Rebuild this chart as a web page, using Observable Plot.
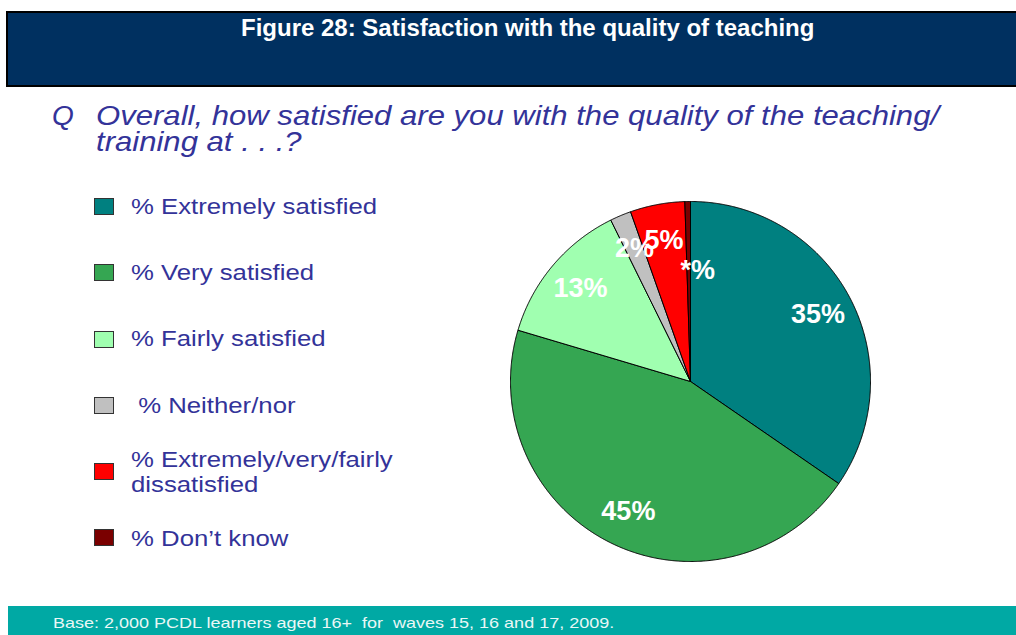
<!DOCTYPE html>
<html>
<head>
<meta charset="utf-8">
<script src="https://cdn.jsdelivr.net/npm/d3@7"></script>
<script src="https://cdn.jsdelivr.net/npm/@observablehq/plot@0.6"></script>
<style>
  html, body { margin: 0; padding: 0; background: #fff; }
  #page { position: relative; width: 1016px; height: 635px; overflow: hidden; font-family: "Liberation Sans", Arial, sans-serif; }
  .abs { position: absolute; white-space: pre; }
  #titlebar { left: 6px; top: 11px; width: 1008px; height: 72px; background: #003060; border-top: 2px solid #000; border-left: 2px solid #000; border-bottom: 2px solid #000; border-right: 1px solid #888; }
  #title { left: 241px; top: 14px; color: #fff; font-weight: bold; font-size: 24px; line-height: 28px; transform-origin: left top; }
  .qt { color: #333399; font-style: italic; font-size: 28px; line-height: 26px; transform-origin: left top; }
  .sw { position: absolute; width: 20px; height: 17px; border: 1px solid #333; box-sizing: border-box; }
  .lt { position: absolute; color: #333399; font-size: 22px; line-height: 25px; white-space: pre; transform-origin: left top; transform: scaleX(1.17); }
  #footer { left: 8px; top: 606px; width: 1008px; height: 29px; background: #00A9A4; }
  #foot { left: 53px; top: 614px; color: #EAF7F6; font-size: 15px; line-height: 17px; transform-origin: left top; transform: scaleX(1.2); }
  #pie { position: absolute; left: 500px; top: 191px; }
</style>
</head>
<body>
<div id="page">
  <div id="titlebar" class="abs"></div>
  <div id="title" class="abs"></div>
  <div id="legend"></div>
  <div id="pie"></div>
  <div id="footer" class="abs"></div>
  <div id="foot" class="abs"></div>
</div>
<script>
const titleText = "Figure 28: Satisfaction with the quality of teaching";
const questionMark = "Q";
const questionLines = ["Overall, how satisfied are you with the quality of the teaching/", "training at . . .?"];
const footText = "Base: 2,000 PCDL learners aged 16+  for  waves 15, 16 and 17, 2009.";

const categories = ["% Extremely satisfied", "% Very satisfied", "% Fairly satisfied", " % Neither/nor", "% Extremely/very/fairly\ndissatisfied", "% Don’t know"];
const values = [34.6, 45.0, 13.1, 1.9, 4.9, 0.5];
const sliceLabels = ["35%", "45%", "13%", "2%", "5%", "*%"];
const colors = ["#008080", "#35A652", "#A0FFB0", "#C0C0C0", "#FF0000", "#7A0000"];

const page = document.getElementById("page");
// ---- title, question, footer
document.getElementById("title").textContent = titleText;
document.getElementById("foot").textContent = footText;
const qm = document.createElement("div");
qm.className = "abs qt"; qm.style.left = "52px"; qm.style.top = "103px";
qm.textContent = questionMark;
page.appendChild(qm);
questionLines.forEach((line, i) => {
  const d = document.createElement("div");
  d.className = "abs qt";
  d.style.left = "96px"; d.style.top = (103 + i * 26) + "px";
  d.style.transform = "scaleX(1.11)";
  d.textContent = line;
  page.appendChild(d);
});

// ---- legend (HTML)
const legend = document.getElementById("legend");
const rowTops = [194, 260, 326, 393, 447, 526];
const swTops = [198, 264, 331, 397, 463, 529];
categories.forEach((c, i) => {
  const s = document.createElement("div");
  s.className = "sw"; s.style.left = "94px"; s.style.top = swTops[i] + "px"; s.style.background = colors[i];
  legend.appendChild(s);
  const t = document.createElement("div");
  t.className = "lt"; t.style.left = "131px"; t.style.top = rowTops[i] + "px";
  t.textContent = c;
  legend.appendChild(t);
});

// ---- pie with Plot
const arcs = d3.pie().sort(null).value(d => d)(values);
const pts = [];
arcs.forEach((a, i) => {
  pts.push({cat: categories[i], x: 0, y: 0});
  const n = Math.max(2, Math.ceil((a.endAngle - a.startAngle) / 0.005));
  for (let k = 0; k <= n; k++) {
    const t = a.startAngle + (a.endAngle - a.startAngle) * k / n;
    pts.push({cat: categories[i], x: Math.sin(t), y: Math.cos(t)});
  }
  pts.push({cat: categories[i], x: 0, y: 0});
});
const labs = arcs.map((a, i) => {
  const m = (a.startAngle + a.endAngle) / 2;
  const r = values[i] < 1 ? 0.62 : 0.8;
  return {text: sliceLabels[i], x: r * Math.sin(m), y: r * Math.cos(m), small: values[i] < 1};
});
const R = 180, S = 380, ext = S / 2 / R;
const chart = Plot.plot({
  width: S, height: S, margin: 0,
  x: {domain: [-ext, ext], axis: null},
  y: {domain: [-ext, ext], axis: null},
  color: {domain: categories, range: colors},
  style: {background: "transparent", overflow: "visible"},
  marks: [
    Plot.line(pts, {x: "x", y: "y", z: "cat", fill: "cat", stroke: "#000", strokeWidth: 1, strokeLinejoin: "round", curve: "linear"}),
    Plot.text(labs.filter(d => !d.small), {x: "x", y: "y", text: "text", fill: "white", fontWeight: "bold", fontSize: 27, fontFamily: "Liberation Sans, Arial, sans-serif", lineAnchor: "middle"}),
    Plot.text(labs.filter(d => d.small), {x: "x", y: "y", text: "text", dx: 9, dy: 0, fill: "white", fontWeight: "bold", fontSize: 27, fontFamily: "Liberation Sans, Arial, sans-serif", lineAnchor: "middle"})
  ]
});
document.getElementById("pie").appendChild(chart);
</script>
</body>
</html>
